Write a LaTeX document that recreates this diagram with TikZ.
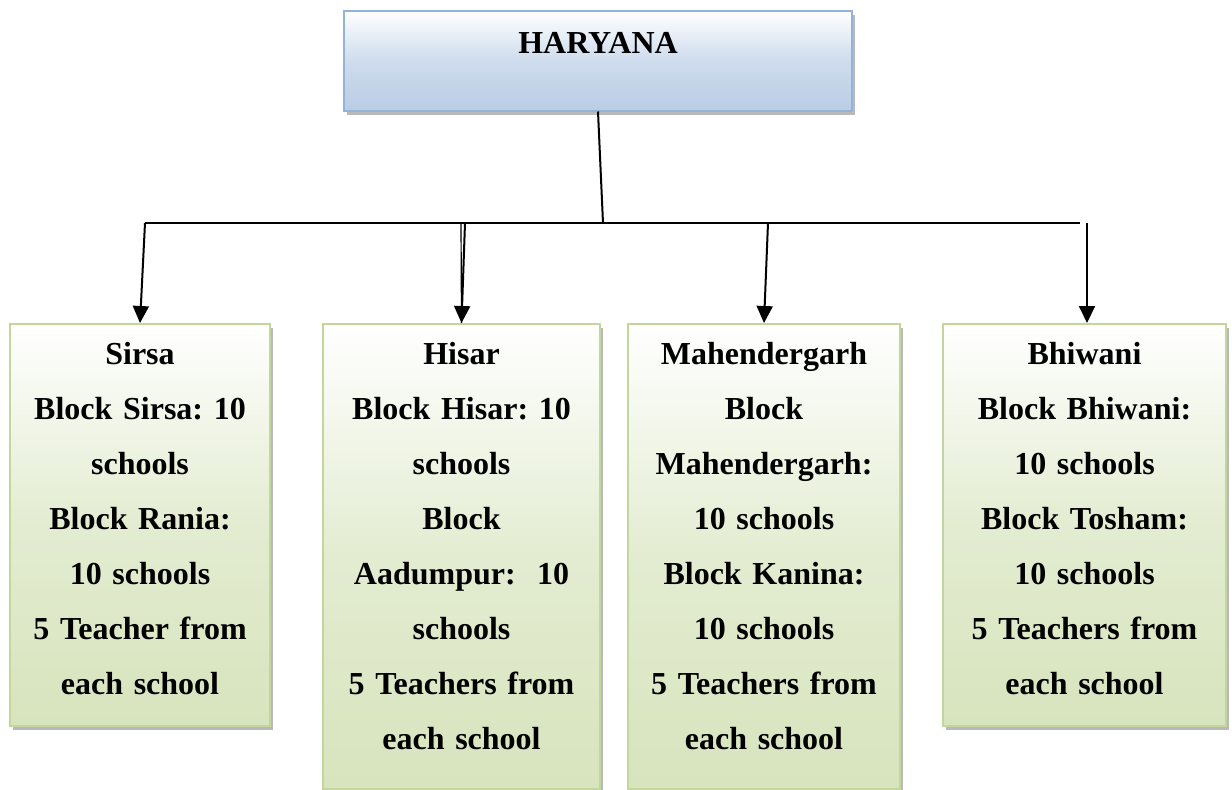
\documentclass[tikz,border=0pt]{standalone}
\usepackage{fontspec}
\setmainfont{Liberation Serif}
\usetikzlibrary{arrows.meta,shadows}
\definecolor{stateblue}{RGB}{185,205,229}
\definecolor{stateedge}{RGB}{149,179,215}
\definecolor{distgreen}{RGB}{215,228,189}
\definecolor{distedge}{RGB}{195,214,155}
\frenchspacing
\begin{document}
\begin{tikzpicture}[x=1pt, y=-1pt, line width=2pt,
    feed/.style = {-{Triangle[length=17pt,width=16pt]}},
    box/.style = {draw, line width=1.5pt, anchor=north, align=center, inner xsep=0pt, inner ysep=0pt,
                  font=\bfseries\fontsize{32}{55}\selectfont, text height=41pt,
                  drop shadow={shadow xshift=3pt, shadow yshift=-4pt, fill=gray!55, opacity=1}},
    state/.style = {box, draw=stateedge, top color=white, bottom color=stateblue,
                    middle color=stateblue!70!white, text height=43pt, text depth=57pt},
    dist/.style = {box, draw=distedge, top color=white, bottom color=distgreen, middle color=distgreen!70!white}]
    \useasboundingbox (0,0) rectangle (1232,790);
    \node[state, minimum width=508pt, text width=508pt] (0) at (598,10) {HARYANA};
    \node[dist, minimum width=260pt, text width=260pt, text depth=361pt] (1) at (140,323)
        {Sirsa\\Block Sirsa: 10\\schools\\Block Rania:\\10 schools\\5 Teacher from\\each school};
    \node[dist, minimum width=277pt, text width=277pt, text depth=424pt] (2) at (461.5,323)
        {Hisar\\Block Hisar: 10\\schools\\Block\\Aadumpur:\ \ 10\\schools\\5 Teachers from\\each school};
    \node[dist, minimum width=272pt, text width=272pt, text depth=424pt] (3) at (764,323)
        {Mahendergarh\\Block\\Mahendergarh:\\10 schools\\Block Kanina:\\10 schools\\5 Teachers from\\each school};
    \node[dist, minimum width=283pt, text width=283pt, text depth=361pt] (4) at (1084.5,323)
        {Bhiwani\\Block Bhiwani:\\10 schools\\Block Tosham:\\10 schools\\5 Teachers from\\each school};
    %bus
    \coordinate (b0) at (603,223);
    \coordinate (b1) at (145,223);
    \coordinate (b2) at (465,223);
    \coordinate (b2x) at (461,223);
    \coordinate (b3) at (768,223);
    \coordinate (b4) at (1087,223);
    \coordinate (bend) at (1080,223);
    \draw (0.south) -- (b0);
    \draw (b1) -- (bend);
    \draw[feed] (b1) -- (1.north);
    \draw[feed] (b2) -- (2.north);
    \draw[line width=1.2pt] (b2x) -- (2.north);
    \draw[feed] (b3) -- (3.north);
    \draw[feed] (b4) -- (1087,323);
\end{tikzpicture}
\end{document}
